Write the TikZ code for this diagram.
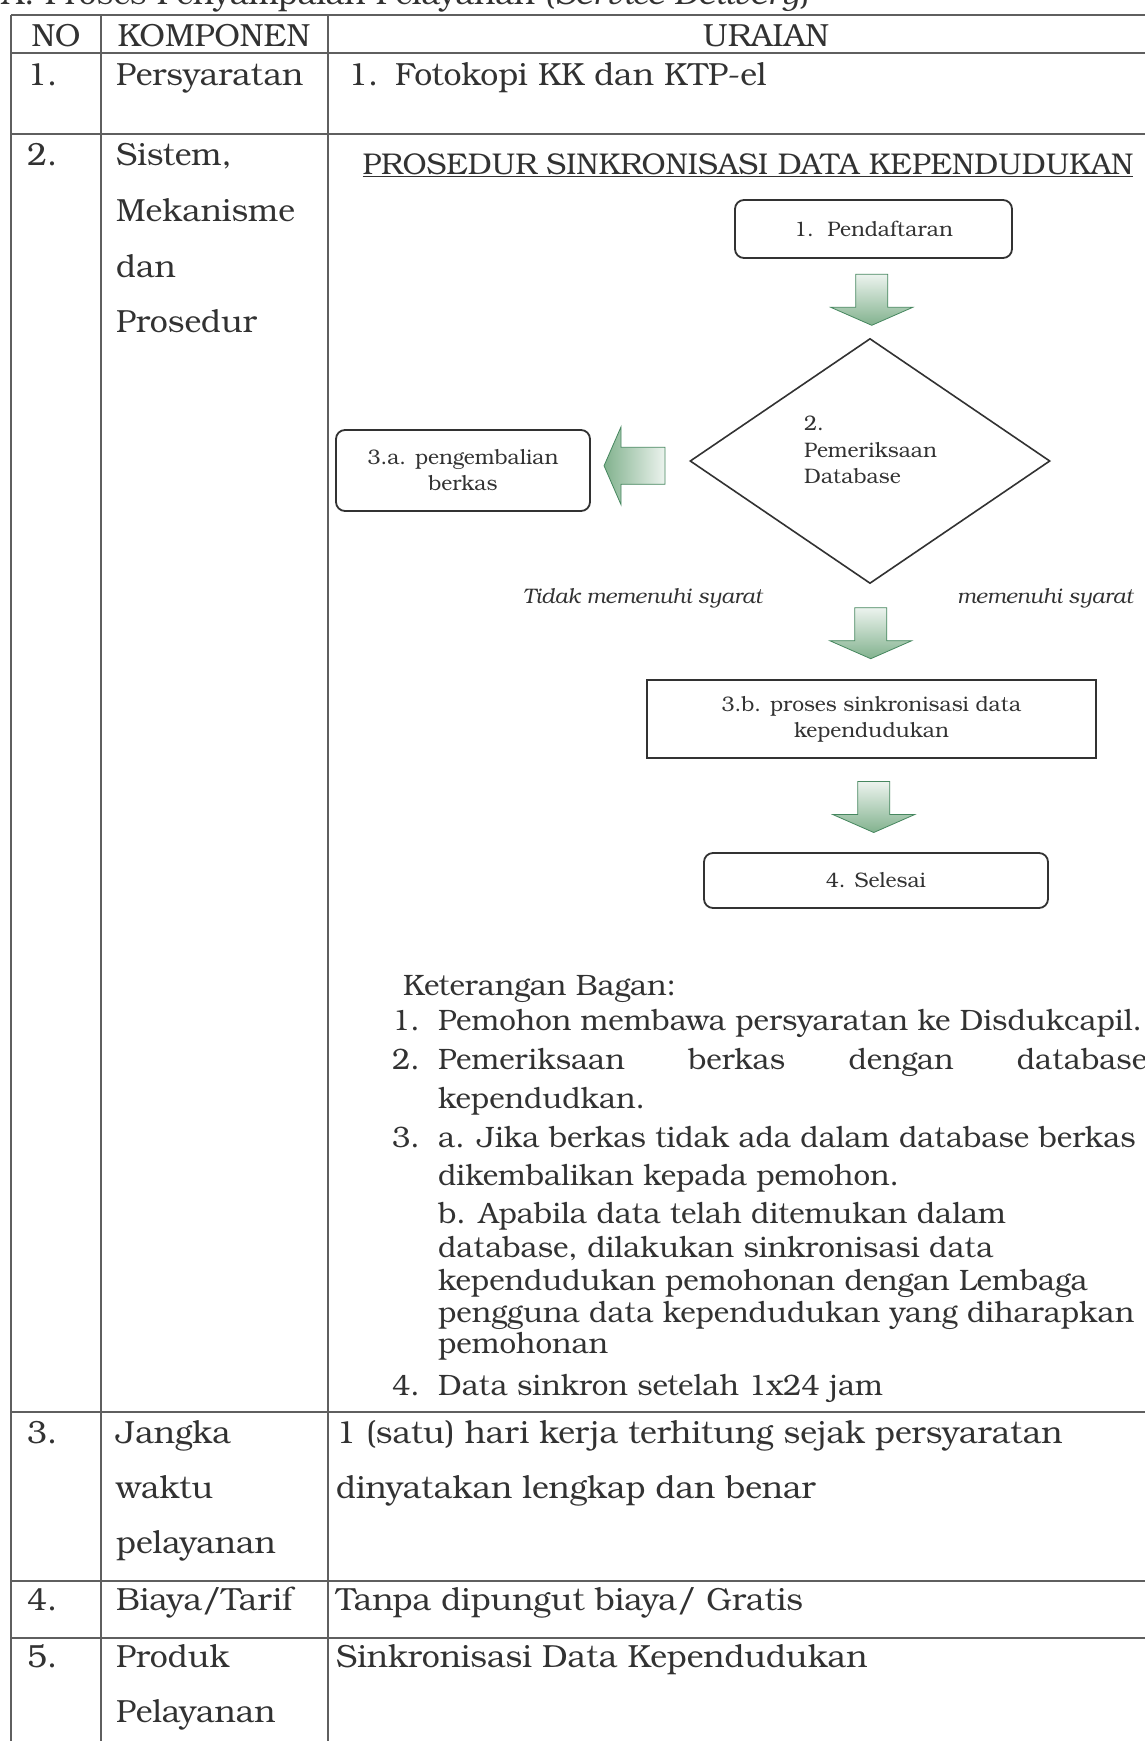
\documentclass[tikz,border=0pt]{standalone}
\usepackage{fontspec}
\setmainfont{texgyrebonum-regular.otf}[ItalicFont=texgyrebonum-italic.otf,BoldFont=texgyrebonum-bold.otf,BoldItalicFont=texgyrebonum-bolditalic.otf]
\usepackage{xcolor}
\usetikzlibrary{shapes.geometric,calc}

\definecolor{inkgray}{RGB}{50,50,50}
\definecolor{rulegray}{RGB}{95,95,95}
\definecolor{arrowedge}{RGB}{70,135,95}
\definecolor{arrowmid}{RGB}{130,178,142}
\definecolor{arrowlight}{RGB}{236,243,238}

\newcommand{\bigfont}{\fontsize{32}{38}\selectfont}
\newcommand{\ketfont}{\fontsize{29.5}{35}\selectfont}
\newcommand{\flowfont}{\fontsize{21}{26}\selectfont}

\begin{document}
\begin{tikzpicture}[x=1pt,y=-1pt,
    txt/.style={anchor=base west,inner sep=0,text=inkgray,font=\bigfont},
    ctxt/.style={txt,anchor=base},
    ktxt/.style={txt,font=\ketfont},
    ftxt/.style={txt,font=\flowfont},
    rbox/.style={draw=inkgray,line width=1.8pt,rounded corners=9pt,inner sep=0,text=inkgray,font=\flowfont,align=center},
    sbox/.style={rbox,rounded corners=0pt},
    rule/.style={draw=rulegray,line width=1.6pt},
    blkdown/.pic={\shade[draw=arrowedge,line width=0.8pt,top color=arrowlight,bottom color=arrowmid]
        (-16,-24) -- (16,-24) -- (16,9) -- (41,9) -- (0,27) -- (-41,9) -- (-16,9) -- cycle;},
    blkleft/.pic={\shade[draw=arrowedge,line width=0.8pt,left color=arrowmid,right color=arrowlight]
        (-36,0) -- (-19,-39) -- (-19,-18.5) -- (25,-18.5) -- (25,18.5) -- (-19,18.5) -- (-19,39) -- cycle;}]
    \useasboundingbox (0,0) rectangle (1145,1741);
    \fill[white] (0,0) rectangle (1145,1741);
    \clip (0,0) rectangle (1145,1741);
    \def\xa{11};
    \def\xb{101};
    \def\xc{328};
    \def\xd{1204}; %right border, off the page%

    % table rules
    \foreach \y in {15,53,134,1412,1581,1638}
        \draw[rule] (\xa,\y) -- (\xd,\y);
    \foreach \x in {\xa,\xb,\xc,\xd}
        \draw[rule] (\x,15) -- (\x,1760);

    \node[txt] (bagian) at (2,4) {A. Proses Penyampaian Pelayanan (\textit{Service Delivery})};

    % header
    \node[ctxt] (hno) at (56,46) {NO};
    \node[ctxt] (hkomp) at (214,46) {KOMPONEN};
    \node[ctxt] (hurai) at (766,46) {URAIAN};

    % row 1
    \node[txt] (no1) at (27,85) {1.};
    \node[txt] (komp1) at (116,85) {Persyaratan};
    \node[txt] (nsyarat) at (348,85) {1.};
    \node[txt] (syarat) at (395,85) {Fotokopi KK dan KTP-el};

    % row 2
    \node[txt] (no2) at (27,165) {2.};
    \foreach \t/\y [count=\i] in {{Sistem,}/165,Mekanisme/221,dan/277,Prosedur/332}
        \node[txt] (komp2-\i) at (116,\y) {\t};

    \node[ctxt,font=\fontsize{30}{36}\selectfont] (judul) at (748,174) {\underline{PROSEDUR SINKRONISASI DATA KEPENDUDUKAN}};

    % flowchart
    \node[rbox,minimum width=277pt,minimum height=58pt] (daftar) at (873.5,229) {1.\ \ Pendaftaran};
    \node[diamond,draw=inkgray,line width=1.6pt,minimum width=360pt,minimum height=245pt,inner sep=0] (periksa) at (870,461) {};
    \node[ftxt] (periksa1) at (804,430) {2.};
    \node[ftxt] (periksa2) at (804,457) {Pemeriksaan};
    \node[ftxt] (periksa3) at (804,483) {Database};
    \node[rbox,minimum width=254pt,minimum height=81pt] (kembali) at (463,470.5) {3.a. pengembalian\\berkas};
    \node[sbox,minimum width=449pt,minimum height=78pt] (sinkron) at (871.5,719) {3.b. proses sinkronisasi data\\kependudukan};
    \node[rbox,minimum width=344pt,minimum height=55pt] (selesai) at (876,880.5) {4. Selesai};

    \node[ftxt,font=\flowfont\itshape] (tidak) at (523,603) {Tidak memenuhi syarat};
    \node[ftxt,font=\flowfont\itshape] (ya) at (957,603) {memenuhi syarat};

    \pic at ($(daftar.south)!0.5!(periksa.north)$) {blkdown};
    \pic at ($(periksa.south)!0.5!(sinkron.north)$) {blkdown};
    \pic at ($(sinkron.south)!0.5!(selesai.north)$) {blkdown};
    \pic at ($(kembali.east)!0.5!(periksa.west)$) {blkleft};

    % keterangan
    \node[ktxt] (ket) at (403,995) {Keterangan Bagan:};
    \foreach \n/\y in {1./1030,2./1069,3./1147,4./1395}
        \node[ktxt] (ketno\y) at (392,\y) {\n};
    \foreach \t/\y [count=\i] in {{Pemohon membawa persyaratan ke Disdukcapil.}/1030,
            {\makebox[709pt][s]{Pemeriksaan berkas dengan database}}/1069,
            {kependudkan.}/1108,
            {a. Jika berkas tidak ada dalam database berkas}/1147,
            {dikembalikan kepada pemohon.}/1185,
            {b. Apabila data telah ditemukan dalam}/1223,
            {database, dilakukan sinkronisasi data}/1257,
            {kependudukan pemohonan dengan Lembaga}/1290,
            {pengguna data kependudukan yang diharapkan}/1322,
            {pemohonan}/1353,
            {Data sinkron setelah 1x24 jam}/1395}
        \node[ktxt] (ket\i) at (438,\y) {\t};

    % row 3
    \node[txt] (no3) at (27,1443) {3.};
    \foreach \t/\y [count=\i] in {Jangka/1443,waktu/1498,pelayanan/1553}
        \node[txt] (komp3-\i) at (116,\y) {\t};
    \node[txt] (waktu1) at (336,1443) {1 (satu) hari kerja terhitung sejak persyaratan};
    \node[txt] (waktu2) at (336,1498) {dinyatakan lengkap dan benar};

    % row 4
    \node[txt] (no4) at (27,1610) {4.};
    \node[txt] (komp4) at (116,1610) {Biaya/Tarif};
    \node[txt] (biaya) at (336,1610) {Tanpa dipungut biaya/ Gratis};

    % row 5
    \node[txt] (no5) at (27,1667) {5.};
    \foreach \t/\y [count=\i] in {Produk/1667,Pelayanan/1722}
        \node[txt] (komp5-\i) at (116,\y) {\t};
    \node[txt] (produk) at (336,1667) {Sinkronisasi Data Kependudukan};
\end{tikzpicture}
\end{document}
